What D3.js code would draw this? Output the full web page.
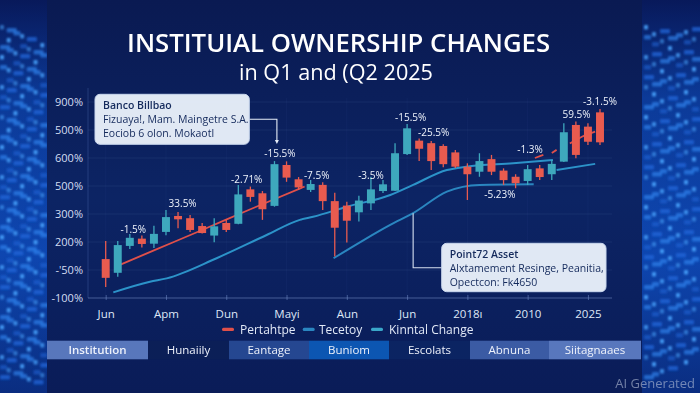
<!DOCTYPE html>
<html><head><meta charset="utf-8">
<script src="https://cdn.jsdelivr.net/npm/d3@7"></script>
<style>html,body{margin:0;padding:0;background:#0b1d58;}svg{display:block;}</style>
</head><body>
<svg id="chart" width="700" height="393"></svg>
<script>
// ---------- data ----------
const xLabels = ["Jun","Apm","Dun","Mayi","Aun","Jun","2018ı","2010","2025"];
const xLabelIdx = [0,5,10,15,20,25,30,35,40];
const yLabels = ["-100%","-'50%","200%","300%","500%","600%","500%","900%"];
const yTickVals = [0,100,200,300,400,500,600,700];
const opens  = [139,90,186,212,194,236,293,285,257,223,268,265,388,374,329,475,424,386,404,346,330,306,338,382,383,514,562,553,543,520,469,451,496,455,433,418,463,442,487,618,612,663];
const closes = [72,189,215,193,229,289,281,243,232,256,243,370,361,317,478,430,395,407,346,251,276,348,388,406,517,606,533,489,478,469,442,489,451,421,410,460,432,479,592,511,558,556];
const highs  = [204,204,229,223,258,314,307,296,268,285,281,404,398,382,489,488,432,421,413,376,344,365,433,421,553,621,570,561,549,529,481,517,511,463,442,475,475,493,624,630,624,675];
const lows   = [39,76,175,180,179,224,249,236,230,199,236,263,344,279,326,415,386,379,314,148,198,273,314,375,382,511,489,457,467,464,350,433,439,404,392,404,421,421,486,499,546,546];
// line series: [index, value]; null value = gap
const pertahtpe = [[1,115],[4,170],[8,243],[12,317],[16.5,398],[16.6,null],[35.6,500],[36.3,511],[36.6,null],[37,518],[37.4,529],[37.5,null],[38.5,552],[39.5,576],[40.6,594]];
const tecetoy = [[0.63,20],[3.67,58],[5.06,70],[9.2,142],[13.35,225],[16.1,279],[17.2,290],[20,326],[23.6,368],[25.5,404],[28.3,457],[29.9,469],[33.8,481],[37.1,493],[37.2,null],[37.4,457],[40.6,479]];
const kinntal = [[18.9,142],[21.4,207],[23.6,261],[25.5,303],[28.3,380],[31,404],[35.5,406]];
const annoText = ["-1.5%","33.5%","-2.71%","-15.5%","-7.5%","-3.5%","-15.5%","-25.5%","-1.3%","-5.23%","59.5%","-3.1.5%"];
const annoIdx  = [2.29,6.38,11.7,14.45,17.5,22,25.3,27.2,35.2,32.7,39.05,41];
const annoVal  = [246,336,425,515,439,436,645,592,531,371,654,701];
const legendNames = ["Pertahtpe","Tecetoy","Kinntal Change"];
const tableCells = ["Institution","Hunaiily","Eantage","Buniom","Escolats","Abnuna","Siitagnaaes"];
const box1Lines = ["Banco Billbao","Fizuaya!, Mam. Maingetre S.A.","Eociob 6 olon. Mokaotl"];
const box2Lines = ["Point72 Asset","Alxtamement Resinge, Peanitia,","Opectcon: Fk4650"];
const titleText = "INSTITUIAL OWNERSHIP CHANGES";
const subtitleText = "in Q1 and (Q2 2025";

// ---------- setup ----------
const svg = d3.select("#chart");
const W = 700, H = 393;
const RED = "#e85b4f", TEAL = "#3ea8bd", LINE1 = "#2c93c9", LINE2 = "#2a86c0";
const defs = svg.append("defs");
const bg = defs.append("linearGradient").attr("id","bgc").attr("x1",0).attr("y1",0).attr("x2",0).attr("y2",1);
bg.append("stop").attr("offset","0%").attr("stop-color","#0a1a52");
bg.append("stop").attr("offset","50%").attr("stop-color","#0c2464");
bg.append("stop").attr("offset","100%").attr("stop-color","#0a1c58");
const side = defs.append("linearGradient").attr("id","side").attr("x1",0).attr("y1",0).attr("x2",0).attr("y2",1);
side.append("stop").attr("offset","0%").attr("stop-color","#08195a");
side.append("stop").attr("offset","25%").attr("stop-color","#0c3a98");
side.append("stop").attr("offset","65%").attr("stop-color","#0e46b0");
side.append("stop").attr("offset","100%").attr("stop-color","#0a2d80");
defs.append("filter").attr("id","blur").append("feGaussianBlur").attr("stdDeviation",0.9);

svg.append("rect").attr("width",W).attr("height",H).attr("fill","url(#bgc)");
// side panels
svg.append("rect").attr("x",0).attr("y",0).attr("width",47).attr("height",H).attr("fill","url(#side)");
svg.append("rect").attr("x",642).attr("y",0).attr("width",58).attr("height",H).attr("fill","url(#side)");
const deco = svg.append("g").attr("filter","url(#blur)");
function panel(x0, x1, flip){
  for(let r=0;r<36;r++){
    for(let c=0;c<7;c++){
      const k=(r*7+c*5+(flip?3:0))%9;
      if(k>6) continue;
      const y = 25 + r*10 + (flip? -c*3 : c*3);
      if(y<25||y>380) continue;
      const w = 4 + (k%3)*3;
      const x = x0 + c*((x1-x0)/7);
      deco.append("rect").attr("x",x).attr("y",y).attr("width",w).attr("height",4.5).attr("rx",1)
        .attr("fill", k%3===0? "#4aa6ff": (k%2? "#2f86f0":"#2066d8")).attr("opacity",0.55+0.1*(k%4));
    }
  }
}
panel(0,47,false); panel(644,700,true);
svg.append("rect").attr("x",47).attr("y",0).attr("width",595).attr("height",H).attr("fill","url(#bgc)");

// ---------- scales ----------
const x = d3.scaleLinear().domain([0,41]).range([105.7,600]);
const y = d3.scaleLinear().domain([0,700]).range([298,102]);
const step = x(1)-x(0), bw = step*0.66;

// grid
const g = svg.append("g");
g.selectAll(".hg").data(yTickVals).join("line").attr("x1",88).attr("x2",612)
  .attr("y1",d=>y(d)).attr("y2",d=>y(d)).attr("stroke","#6f8fd6").attr("stroke-opacity",0.11);
g.selectAll(".vg").data(xLabelIdx).join("line").attr("x1",d=>x(d)).attr("x2",d=>x(d))
  .attr("y1",98).attr("y2",298).attr("stroke","#6f8fd6").attr("stroke-opacity",0.05);
g.append("line").attr("x1",88).attr("x2",88).attr("y1",88).attr("y2",298).attr("stroke","#6f8fd6").attr("stroke-opacity",0.25);

// axes
const xAxis = d3.axisBottom(x).tickValues(xLabelIdx).tickFormat((d,i)=>xLabels[i]).tickSize(4).tickPadding(6);
const xa = svg.append("g").attr("transform","translate(0,298)").call(xAxis);
xa.select(".domain").attr("d","M88,0H612").attr("stroke","#7c95cf").attr("stroke-opacity",0.45);
xa.selectAll(".tick line").attr("stroke","#7c95cf").attr("stroke-opacity",0.5).attr("y1",-3).attr("y2",2);
xa.selectAll("text").attr("fill","#dfe7f7").attr("font-family","Open Sans, sans-serif").attr("font-size",11.5).attr("dy","0.85em");

const yAxis = d3.axisLeft(y).tickValues(yTickVals).tickFormat((d,i)=>yLabels[i]).tickSize(0).tickPadding(6);
const ya = svg.append("g").attr("transform","translate(89,0)").call(yAxis);
ya.select(".domain").remove();
ya.selectAll("text").attr("fill","#d3ddf2").attr("font-family","Open Sans, sans-serif").attr("font-size",11);

// lines
const lineGen = d3.line().defined(d=>d[1]!==null).x(d=>x(d[0])).y(d=>y(d[1])).curve(d3.curveMonotoneX);
svg.append("path").datum(tecetoy).attr("d",lineGen).attr("fill","none").attr("stroke",LINE1).attr("stroke-width",2);
svg.append("path").datum(kinntal).attr("d",lineGen).attr("fill","none").attr("stroke",LINE2).attr("stroke-width",2);
svg.append("path").datum(pertahtpe).attr("d",lineGen).attr("fill","none").attr("stroke","#e0504a").attr("stroke-width",1.8);

// candles
const cd = opens.map((o,i)=>({i,o,c:closes[i],h:highs[i],l:lows[i]}));
const cg = svg.append("g");
cg.selectAll(".wick").data(cd).join("line").attr("x1",d=>x(d.i)).attr("x2",d=>x(d.i))
  .attr("y1",d=>y(d.h)).attr("y2",d=>y(d.l)).attr("stroke",d=>d.c>=d.o?TEAL:RED).attr("stroke-width",1.3);
cg.selectAll(".body").data(cd).join("rect").attr("x",d=>x(d.i)-bw/2).attr("width",bw)
  .attr("y",d=>y(Math.max(d.o,d.c))).attr("height",d=>Math.max(1,Math.abs(y(d.o)-y(d.c))))
  .attr("fill",d=>d.c>=d.o?TEAL:RED);

// annotations
svg.append("g").selectAll("text").data(annoText).join("text")
  .attr("x",(d,i)=>x(annoIdx[i])).attr("y",(d,i)=>y(annoVal[i])).attr("dy","0.35em")
  .attr("text-anchor","middle").attr("fill","#eef3fb").attr("font-family","Open Sans, sans-serif")
  .attr("font-size",10).text(d=>d);

// callout boxes
function callout(bx,by,bw_,bh,lines){
  svg.append("rect").attr("x",bx).attr("y",by).attr("width",bw_).attr("height",bh).attr("rx",5)
    .attr("fill","#e9f0fa").attr("fill-opacity",0.96).attr("stroke","#c9d7ee");
  svg.append("g").selectAll("text").data(lines).join("text")
    .attr("x",bx+8).attr("y",(d,i)=>by+11.5+i*14).attr("dy","0.35em")
    .attr("fill","#142a5c").attr("font-family","Open Sans, sans-serif").attr("font-size",10.5)
    .attr("font-weight",(d,i)=>i===0?600:500).text(d=>d);
}
const conn = "#e6edf8";
svg.append("path").attr("d",`M249.3,119.3H${x(14.2)}V142`).attr("fill","none").attr("stroke",conn).attr("stroke-width",1.1);
svg.append("path").attr("d",`M${x(14.2)-2},140L${x(14.2)},144L${x(14.2)+2},140Z`).attr("fill",conn);
callout(95,94.3,154.3,50,box1Lines);
svg.append("path").attr("d",`M${x(25.5)},213.3V267.7H441.7`).attr("fill","none").attr("stroke","#d6e0f0").attr("stroke-width",1.1);
callout(441.7,243.3,164.3,48.4,box2Lines);

// title
svg.append("text").attr("x",338.6).attr("y",51.7).attr("text-anchor","middle").attr("fill","#ffffff")
  .attr("font-family","Open Sans, sans-serif").attr("font-weight",600).attr("font-size",25)
  .attr("textLength",423).attr("lengthAdjust","spacingAndGlyphs").text(titleText);
svg.append("text").attr("x",336).attr("y",80).attr("text-anchor","middle").attr("fill","#ffffff")
  .attr("font-family","Open Sans, sans-serif").attr("font-weight",400).attr("font-size",22)
  .attr("textLength",194).attr("lengthAdjust","spacingAndGlyphs").text(subtitleText);

// legend
const legX = [222,302.7,371], legTX=[240,319,389], legC=["#e0504a",LINE2,"#3aa7c9"];
const lg = svg.append("g");
legendNames.forEach((n,i)=>{
  lg.append("rect").attr("x",legX[i]).attr("y",327.8).attr("width",12).attr("height",3.2).attr("rx",1.5).attr("fill",legC[i]);
  lg.append("text").attr("x",legTX[i]).attr("y",329.5).attr("dy","0.35em").attr("fill","#e2e9f7")
    .attr("font-family","Open Sans, sans-serif").attr("font-size",12).text(n);
});

// bottom table
const cellX = [47,148,229,309,389,470,549,641];
const cellC = ["#5877bc","#0b1f57","#254791","#0c56b2","#0b2462","#3b5ba4","#5877bd"];
const tb = svg.append("g");
tableCells.forEach((t,i)=>{
  tb.append("rect").attr("x",cellX[i]).attr("y",340.7).attr("width",cellX[i+1]-cellX[i]).attr("height",18.6).attr("fill",cellC[i]);
  tb.append("text").attr("x",(cellX[i]+cellX[i+1])/2).attr("y",350).attr("dy","0.35em").attr("text-anchor","middle")
    .attr("fill","#eef2fb").attr("font-family","Open Sans, sans-serif").attr("font-size",11.5)
    .attr("font-weight",i===0?600:400).text(t);
});

// watermark
svg.append("text").attr("x",695).attr("y",383).attr("dy","0.35em").attr("text-anchor","end")
  .attr("fill","#b8c2d8").attr("fill-opacity",0.6).attr("font-family","Open Sans, sans-serif").attr("font-size",13).text("AI Generated");
</script>
</body></html>
